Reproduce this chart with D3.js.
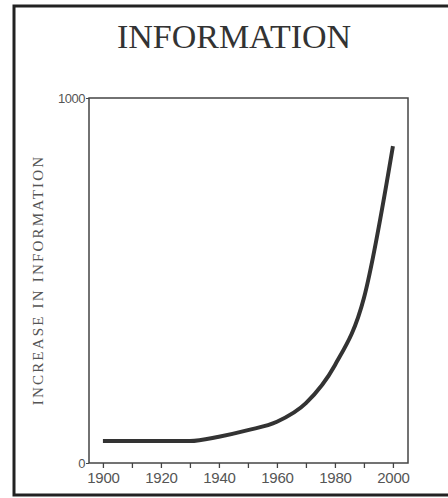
<!DOCTYPE html>
<html>
<head>
<meta charset="utf-8">
<script src="https://cdn.jsdelivr.net/npm/d3@7"></script>
<style>
  body { margin: 0; background: #fff; }
</style>
</head>
<body>
<div id="chart"></div>
<script>
// values
const years = [1900, 1910, 1920, 1930, 1940, 1950, 1960, 1970, 1980, 1990, 2000];
const info = [60, 60, 60, 60, 72, 90, 113, 164, 268, 452, 868];
const tickYears = [1900, 1910, 1920, 1930, 1940, 1950, 1960, 1970, 1980, 1990, 2000];
const labelYears = [1900, 1920, 1940, 1960, 1980, 2000];

const width = 448, height = 498;

const svg = d3.select("#chart").append("svg")
    .attr("width", width)
    .attr("height", height);

// outer frame (no right side)
svg.append("path")
    .attr("d", "M448,6 L14,6 L14,495 L448,495")
    .attr("fill", "none")
    .attr("stroke", "#222")
    .attr("stroke-width", 3);

svg.append("text")
    .attr("x", 234)
    .attr("y", 48)
    .attr("text-anchor", "middle")
    .attr("font-family", "Liberation Serif, serif")
    .attr("font-size", 34)
    .attr("fill", "#333")
    .text("INFORMATION");

const x = d3.scaleLinear().domain([1895.2, 2005.2]).range([89, 408]);
const y = d3.scaleLinear().domain([0, 1000]).range([463, 98]);

// plot box
svg.append("rect")
    .attr("x", x.range()[0])
    .attr("y", y(1000))
    .attr("width", x.range()[1] - x.range()[0])
    .attr("height", y(0) - y(1000))
    .attr("fill", "none")
    .attr("stroke", "#444")
    .attr("stroke-width", 1.5);

const xAxis = svg.append("g")
    .attr("transform", `translate(0,${y(0)})`)
    .call(d3.axisBottom(x).tickValues(tickYears).tickSize(5)
        .tickFormat(d => labelYears.includes(d) ? d : ""));
xAxis.select(".domain").remove();
xAxis.selectAll("line").attr("stroke", "#444").attr("stroke-width", 1.3);
xAxis.selectAll("text")
    .attr("font-family", "Liberation Sans, Arial, sans-serif")
    .attr("font-size", 15)
    .attr("fill", "#555")
    .attr("letter-spacing", -0.2)
    .attr("dy", "0.8em");

const yAxis = svg.append("g")
    .attr("transform", `translate(${x.range()[0]},0)`)
    .call(d3.axisLeft(y).tickValues([0, 1000]).tickSize(3).tickPadding(1)
        .tickFormat(d3.format("d")));
yAxis.select(".domain").remove();
yAxis.selectAll("line").attr("stroke", "#444");
yAxis.selectAll("text")
    .attr("font-family", "Liberation Sans, Arial, sans-serif")
    .attr("font-size", 13)
    .attr("fill", "#555")
    .attr("letter-spacing", -0.5);

svg.append("text")
    .attr("transform", "translate(43,280) rotate(-90)")
    .attr("text-anchor", "middle")
    .attr("font-family", "Liberation Serif, serif")
    .attr("font-size", 15)
    .attr("letter-spacing", 2.2)
    .attr("fill", "#555")
    .text("INCREASE  IN  INFORMATION");

const line = d3.line()
    .x((d, i) => x(years[i]))
    .y(d => y(d))
    .curve(d3.curveMonotoneX);

svg.append("path")
    .datum(info)
    .attr("d", line)
    .attr("fill", "none")
    .attr("stroke", "#333")
    .attr("stroke-width", 4)
    .attr("stroke-linejoin", "round");
</script>
</body>
</html>
